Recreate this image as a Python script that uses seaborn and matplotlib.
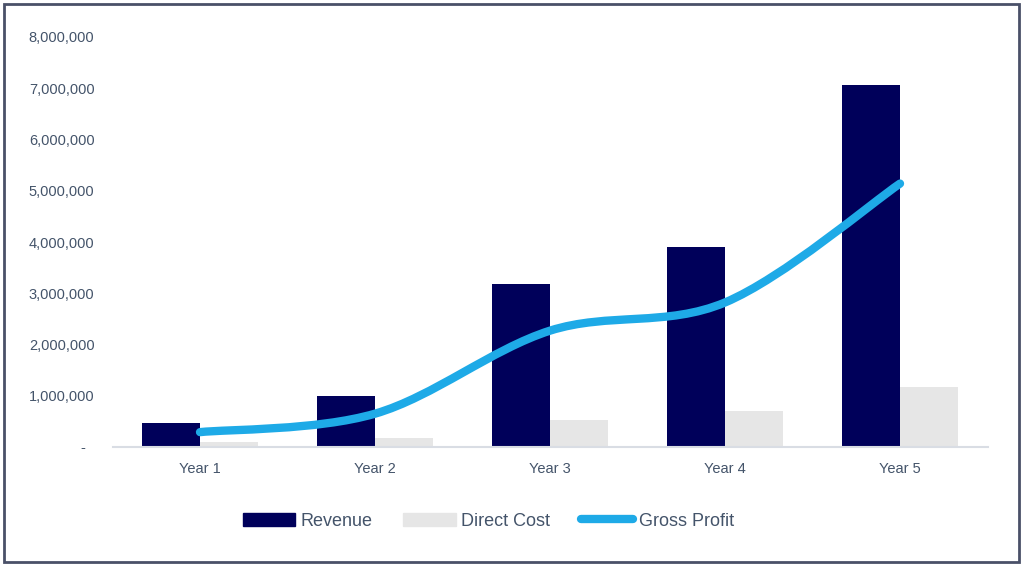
import matplotlib
matplotlib.use("Agg")
import matplotlib.pyplot as plt
from matplotlib.path import Path
from matplotlib.patches import PathPatch, Rectangle
from matplotlib.lines import Line2D
from matplotlib.ticker import FuncFormatter
import numpy as np
import pandas as pd
import seaborn as sns

# values
years = ["Year 1", "Year 2", "Year 3", "Year 4", "Year 5"]
revenue = [460000, 990000, 3180000, 3910000, 7060000]
direct_cost = [100000, 180000, 520000, 700000, 1180000]
gross_profit = [290000, 650000, 2270000, 2820000, 5140000]

NAVY = "#00005a"
GREY = "#e6e6e6"
BLUE = "#1eaae7"
TEXT = "#44546a"

sns.set_theme(style="white")
plt.rcParams["font.family"] = ["Liberation Sans", "DejaVu Sans"]

df = pd.DataFrame({"Year": years, "Revenue": revenue, "Direct Cost": direct_cost})
long = df.melt(id_vars="Year", var_name="Series", value_name="Value")

fig = plt.figure(figsize=(10.24, 5.66), dpi=100)
ax = fig.add_axes([112.5 / 1024, 1 - 447 / 566, 875 / 1024, 410 / 566])

sns.barplot(data=long, x="Year", y="Value", hue="Series",
            palette=[NAVY, GREY], width=0.66, gap=0, saturation=1,
            ax=ax, legend=False, edgecolor="none")

# smoothed line (Excel style) - bezier through the data points
xs = np.arange(len(years), dtype=float)
ys = np.array(gross_profit, dtype=float)
verts = [(xs[0], ys[0])]
codes = [Path.MOVETO]
t = 1 / 6
for i in range(len(xs) - 1):
    p0 = (xs[i - 1], ys[i - 1]) if i > 0 else (xs[i], ys[i])
    p1 = (xs[i], ys[i])
    p2 = (xs[i + 1], ys[i + 1])
    p3 = (xs[i + 2], ys[i + 2]) if i + 2 < len(xs) else p2
    c1 = (p1[0] + (p2[0] - p0[0]) * t, p1[1] + (p2[1] - p0[1]) * t)
    c2 = (p2[0] - (p3[0] - p1[0]) * t, p2[1] - (p3[1] - p1[1]) * t)
    verts += [c1, c2, p2]
    codes += [Path.CURVE4] * 3
ax.add_patch(PathPatch(Path(verts, codes), facecolor="none", edgecolor=BLUE,
                       lw=6, capstyle="round", joinstyle="round", zorder=5))

ax.set_xlim(-0.5, len(years) - 0.5)
ax.set_ylim(0, 8000000)
ax.set_yticks(np.arange(0, 8000001, 1000000))
ax.yaxis.set_major_formatter(FuncFormatter(lambda v, p: "-  " if v == 0 else f"{int(v):,}"))
ax.set_xlabel("")
ax.set_ylabel("")
for s in ["top", "right", "left"]:
    ax.spines[s].set_visible(False)
ax.spines["bottom"].set_color("#d9dde4")
ax.spines["bottom"].set_linewidth(1.5)
ax.tick_params(axis="y", length=0, pad=13, labelsize=10.5, labelcolor=TEXT)
ax.tick_params(axis="x", length=0, pad=11, labelsize=10.5, labelcolor=TEXT)

handles = [Rectangle((0, 0), 1, 1, color=NAVY),
           Rectangle((0, 0), 1, 1, color=GREY),
           Line2D([0], [0], color=BLUE, lw=6, solid_capstyle="round")]
leg = fig.legend(handles, ["Revenue", "Direct Cost", "Gross Profit"],
                 loc="center", bbox_to_anchor=(0.477, 1 - 521 / 566), ncol=3,
                 frameon=False, fontsize=13, handlelength=2.9, handleheight=0.7,
                 handletextpad=0.3, columnspacing=1.7)
for txt in leg.get_texts():
    txt.set_color(TEXT)

fig.patches.append(Rectangle((4 / 1024, 4 / 566), 1015 / 1024, 558 / 566,
                             transform=fig.transFigure, fill=False,
                             edgecolor="#4a5068", lw=2))

fig.savefig("out.png", dpi=100)
